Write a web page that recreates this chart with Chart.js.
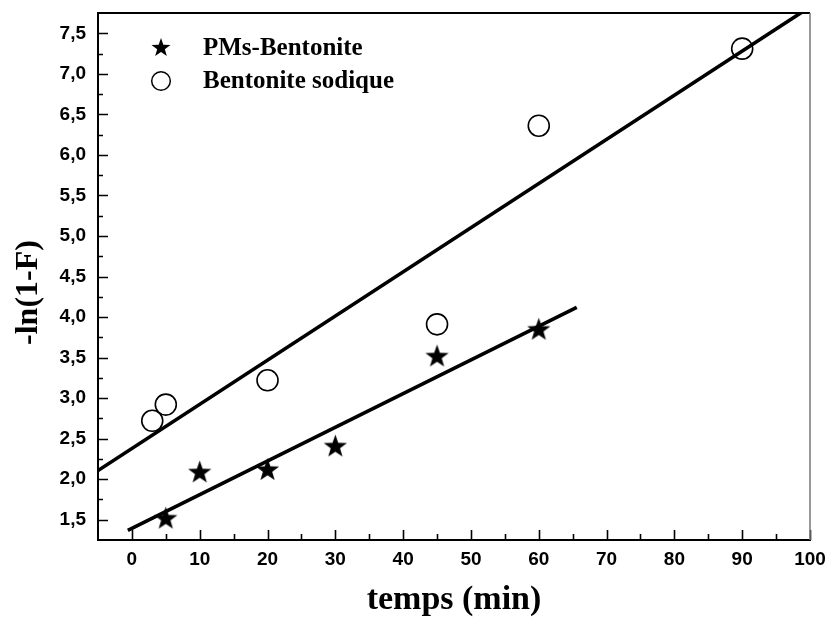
<!DOCTYPE html>
<html><head><meta charset="utf-8">
<script src="https://cdn.jsdelivr.net/npm/chart.js@4/dist/chart.umd.min.js"></script>
<style>html,body{margin:0;padding:0;background:#fff;}#wrap{width:829px;height:621px;}</style>
</head><body><div id="wrap"><canvas id="c" width="829" height="621"></canvas></div>
<script>
// ---- data ----
const seriesNames = ['PMs-Bentonite', 'Bentonite sodique'];
const timeStar = [5, 10, 20, 30, 45, 60];
const lnStar = [1.51, 2.08, 2.11, 2.40, 3.51, 3.84];
const timeCircle = [3, 5, 20, 45, 60, 90];
const lnCircle = [2.72, 2.92, 3.22, 3.91, 6.36, 7.31];
// fitted straight lines (end points)
const fitStarX = [-0.6, 65.6];
const fitStarY = [1.37, 4.12];
const fitCircleX = [-5, 100];
const fitCircleY = [2.106, 7.825];
const xTickValues = [0, 10, 20, 30, 40, 50, 60, 70, 80, 90, 100];
const yTickValues = [1.5, 2.0, 2.5, 3.0, 3.5, 4.0, 4.5, 5.0, 5.5, 6.0, 6.5, 7.0, 7.5];

function pts(xs, ys) { return xs.map((x, i) => ({x: x, y: ys[i]})); }

function makeStar(R, ratio) {
  const s = Math.ceil(R * 2 + 2);
  const cv = document.createElement('canvas');
  cv.width = s; cv.height = s;
  const g = cv.getContext('2d');
  g.translate(s / 2, s / 2);
  g.beginPath();
  for (let i = 0; i < 10; i++) {
    const rr = i % 2 === 0 ? R : R * ratio;
    const a = -Math.PI / 2 + i * Math.PI / 5;
    const px = rr * Math.cos(a), py = rr * Math.sin(a);
    if (i === 0) g.moveTo(px, py); else g.lineTo(px, py);
  }
  g.closePath();
  g.fillStyle = '#000';
  g.fill();
  return cv;
}
const starImg = makeStar(12.2, 0.40);
const starLegend = makeStar(10, 0.40);

const tickPlugin = {
  id: 'ticksIn',
  beforeDatasetsDraw(chart) {
    const {ctx, chartArea: a, scales} = chart;
    const xs = scales.x, ys = scales.y;
    ctx.save();
    ctx.strokeStyle = '#000';
    ctx.lineWidth = 1.6;
    ctx.beginPath();
    for (let v = -5; v <= 100; v += 5) {
      const major = xTickValues.includes(v);
      if (!major && (v <= -5 || v >= 100)) continue;
      const px = Math.round(xs.getPixelForValue(v)) + 0.5;
      ctx.moveTo(px, a.bottom);
      ctx.lineTo(px, a.bottom - (major ? 10 : 6));
    }
    for (let k = 0; k <= 26; k++) {
      const v = 1.25 + k * 0.25;
      const major = yTickValues.some(t => Math.abs(t - v) < 1e-6);
      if (!major && (v <= 1.25 + 1e-6 || v >= 7.75 - 1e-6)) continue;
      const py = Math.round(ys.getPixelForValue(v)) + 0.5;
      ctx.moveTo(a.left, py);
      ctx.lineTo(a.left + (major ? 10 : 5), py);
    }
    ctx.stroke();
    // top and right frame
    ctx.beginPath();
    ctx.lineWidth = 2;
    ctx.strokeStyle = '#000';
    ctx.moveTo(a.left, a.top);
    ctx.lineTo(a.right, a.top);
    ctx.stroke();
    ctx.beginPath();
    ctx.lineWidth = 1.5;
    ctx.strokeStyle = '#777';
    ctx.moveTo(a.right, a.top);
    ctx.lineTo(a.right, a.bottom);
    ctx.stroke();
    ctx.restore();
  }
};

const legendPlugin = {
  id: 'inLegend',
  afterDraw(chart) {
    const {ctx, chartArea: a} = chart;
    ctx.save();
    const mx = a.left + 63, y1 = a.top + 35, y2 = a.top + 68;
    ctx.drawImage(starLegend, mx - starLegend.width / 2, y1 - starLegend.height / 2);
    ctx.beginPath();
    ctx.lineWidth = 1.5;
    ctx.strokeStyle = '#000';
    ctx.arc(mx, y2, 9.3, 0, Math.PI * 2);
    ctx.stroke();
    ctx.fillStyle = '#000';
    ctx.font = 'bold 25px "Liberation Serif", "Times New Roman", serif';
    ctx.textBaseline = 'middle';
    ctx.textAlign = 'left';
    ctx.fillText(seriesNames[0], a.left + 105, y1 + 1);
    ctx.fillText(seriesNames[1], a.left + 105, y2 + 1);
    ctx.restore();
  }
};

const tickFont = {family: '"Liberation Sans", Arial, sans-serif', size: 19, weight: 'bold'};
const titleFontFam = '"Liberation Serif", "Times New Roman", serif';

new Chart(document.getElementById('c'), {
  type: 'scatter',
  data: {
    datasets: [
      {label: seriesNames[0], data: pts(timeStar, lnStar), pointStyle: starImg, pointRadius: 12, backgroundColor: '#000', borderColor: '#000', order: 1},
      {label: seriesNames[1], data: pts(timeCircle, lnCircle), pointStyle: 'circle', pointRadius: 10.5, backgroundColor: 'rgba(0,0,0,0)', borderColor: '#000', borderWidth: 1.6, order: 2},
      {label: 'fit1', data: pts(fitStarX, fitStarY), showLine: true, pointRadius: 0, borderColor: '#000', borderWidth: 3.6, order: 3, clip: 0},
      {label: 'fit2', data: pts(fitCircleX, fitCircleY), showLine: true, pointRadius: 0, borderColor: '#000', borderWidth: 3.6, order: 4, clip: 0}
    ]
  },
  options: {
    responsive: false,
    animation: false,
    devicePixelRatio: 1,
    layout: {padding: {top: 9, right: 19, left: 0, bottom: 0}},
    plugins: {legend: {display: false}, tooltip: {enabled: false}},
    elements: {point: {hoverRadius: 0}},
    scales: {
      x: {
        type: 'linear', min: -5, max: 100,
        afterBuildTicks: s => { s.ticks = xTickValues.map(v => ({value: v})); },
        afterFit: s => { s.height = 81; s.paddingLeft = 0; s.paddingRight = 0; },
        ticks: {font: tickFont, color: '#000', padding: 8, maxRotation: 0, autoSkip: false,
                callback: v => String(v)},
        grid: {display: false, drawTicks: false},
        border: {display: true, color: '#000', width: 2},
        title: {display: true, text: 'temps (min)', color: '#000',
                font: {family: titleFontFam, size: 34, weight: 'bold'}, padding: {top: 0, bottom: 0}}
      },
      y: {
        type: 'linear', min: 1.25, max: 7.75,
        afterBuildTicks: s => { s.ticks = yTickValues.map(v => ({value: v})); },
        afterFit: s => { s.width = 98; s.paddingTop = 0; s.paddingBottom = 0; },
        ticks: {font: tickFont, color: '#000', padding: 12, autoSkip: false,
                callback: v => Number(v).toFixed(1).replace('.', ',')},
        grid: {display: false, drawTicks: false},
        border: {display: true, color: '#000', width: 2},
        title: {display: true, text: '-ln(1-F)    ', color: '#000',
                font: {family: titleFontFam, size: 32, weight: 'bold'}, padding: {top: 10, bottom: 0}}
      }
    }
  },
  plugins: [tickPlugin, legendPlugin]
});
</script>
</body></html>
